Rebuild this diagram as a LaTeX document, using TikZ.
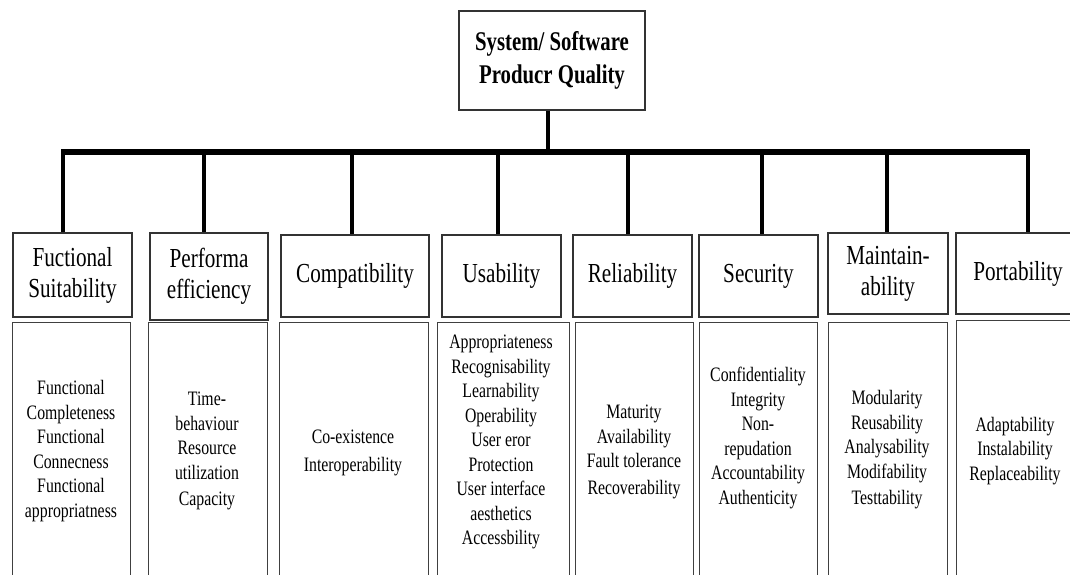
\documentclass[tikz,border=0pt]{standalone}
\usepackage{fontspec}
\setmainfont{Liberation Serif}[FakeStretch=0.77]
\usetikzlibrary{shapes,arrows}
\tikzstyle{hd} = [rectangle, draw=black!80, line width=1.3pt, inner sep=0pt, text centered, align=center, font=\fontsize{27.5}{31}\selectfont]
\tikzstyle{bd} = [rectangle, draw=black!75, line width=1.3pt, inner sep=0pt, anchor=north west, minimum height=280pt]
\tikzstyle{it} = [align=center, inner sep=0pt, font=\fontsize{20.5}{24.5}\selectfont]
\tikzstyle{ln} = [line width=4pt]

\begin{document}
\begin{tikzpicture}[x=1pt,y=-1pt]
			\clip (0,0) rectangle (1070,575);
			\node[hd,minimum width=186pt,minimum height=99pt,font=\bfseries\fontsize{27}{33}\selectfont](root) at (552,60.5){System/ Software\\Producr Quality};
			% quality characteristics
			\node[hd,minimum width=119pt,minimum height=84pt](h1) at (72.5,275){Fuctional\\Suitability};
			\node[hd,minimum width=118pt,minimum height=87pt](h2) at (209,276.5){Performa\\efficiency};
			\node[hd,minimum width=148pt,minimum height=82pt](h3) at (355,276){Compatibility};
			\node[hd,minimum width=119pt,minimum height=82pt](h4) at (501.5,276){Usability};
			\node[hd,minimum width=119pt,minimum height=82pt](h5) at (632.5,276){Reliability};
			\node[hd,minimum width=119pt,minimum height=82pt](h6) at (758.5,276){Security};
			\node[hd,minimum width=120pt,minimum height=81pt](h7) at (888,273.5){Maintain-\\ability};
			\node[hd,minimum width=124pt,minimum height=81pt](h8) at (1018,273.5){Portability};
			% sub-characteristics
			\node[bd,minimum width=118pt](b1) at (12,322){};
			\node[bd,minimum width=119pt](b2) at (148,322){};
			\node[bd,minimum width=149pt](b3) at (279,322){};
			\node[bd,minimum width=132pt](b4) at (437,322){};
			\node[bd,minimum width=118pt](b5) at (575,322){};
			\node[bd,minimum width=118pt](b6) at (699,322){};
			\node[bd,minimum width=119pt](b7) at (828,322){};
			\node[bd,minimum width=124pt](b8) at (956,320){};
			\node[it](t1) at (71,451){Functional\\Completeness\\Functional\\Connecness\\Functional\\appropriatness};
			\node[it](t2) at (207,451){Time-\\behaviour\\Resource\\utilization\\[2pt]Capacity};
			\node[it](t3) at (353,453){Co-existence\\[4pt]Interoperability};
			\node[it](t4) at (501,442){Appropriateness\\Recognisability\\Learnability\\Operability\\User eror\\Protection\\User interface\\aesthetics\\Accessbility};
			\node[it](t5) at (634,452){Maturity\\Availability\\Fault tolerance\\[2pt]Recoverability};
			\node[it](t6) at (758,438){Confidentiality\\Integrity\\Non-\\repudation\\Accountability\\Authenticity};
			\node[it](t7) at (887,450){Modularity\\Reusability\\Analysability\\Modifability\\[2pt]Testtability};
			\node[it](t8) at (1015,451){Adaptability\\Instalability\\Replaceability};
			% tree lines
			\coordinate (d1) at (63,152);
			\coordinate (d2) at (204,152);
			\coordinate (d3) at (352,152);
			\coordinate (d4) at (498,152);
			\coordinate (d5) at (628,152);
			\coordinate (d6) at (762,152);
			\coordinate (d7) at (887,152);
			\coordinate (d8) at (1028,152);
			\draw[line width=3.7pt] ([xshift=-4pt]root.south) -- ([xshift=-4pt]root.south |- d1);
			\draw[line width=5.7pt] ([xshift=-2pt]d1) -- ([xshift=2pt]d8);
			\draw[ln] (d1)--(d1 |- h1.north);
			\draw[ln] (d2)--(d2 |- h2.north);
			\draw[ln] (d3)--(d3 |- h3.north);
			\draw[ln] (d4)--(d4 |- h4.north);
			\draw[ln] (d5)--(d5 |- h5.north);
			\draw[ln] (d6)--(d6 |- h6.north);
			\draw[ln] (d7)--(d7 |- h7.north);
			\draw[ln] (d8)--(d8 |- h8.north);
		\end{tikzpicture}
\end{document}
